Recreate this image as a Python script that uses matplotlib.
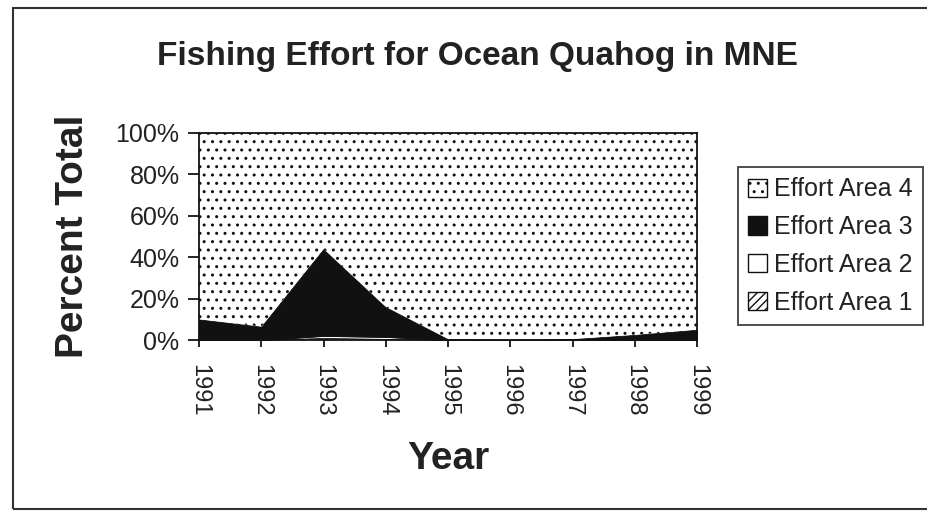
import matplotlib.pyplot as plt
from matplotlib.patches import Rectangle, Patch

years = [1991, 1992, 1993, 1994, 1995, 1996, 1997, 1998, 1999]
area1 = [0.0, 0.0, 1.0, 0.5, 0.0, 0.0, 0.0, 0.0, 0.0]
area2 = [0.0, 0.0, 1.0, 1.0, 0.0, 0.0, 0.0, 0.0, 0.0]
area3 = [10.0, 6.5, 42.0, 14.5, 0.5, 0.0, 0.5, 2.5, 5.0]
area4 = [100 - a - b - c for a, b, c in zip(area1, area2, area3)]
series_names = ['Effort Area 1', 'Effort Area 2', 'Effort Area 3', 'Effort Area 4']
fills = ['white', 'white', '#111111', 'white']
hatches = ['////', None, None, '..']
y_ticks = [0, 20, 40, 60, 80, 100]

plt.rcParams['font.family'] = ['Liberation Sans', 'DejaVu Sans']
plt.rcParams['hatch.linewidth'] = 1.0

fig = plt.figure(figsize=(9.28, 5.15), dpi=100)
ax = fig.add_axes([199 / 928, 1 - 340 / 515, 498 / 928, 207 / 515])

polys = ax.stackplot(years, area1, area2, area3, area4, colors=fills,
                     edgecolor='#111111', linewidth=0.6)
for p, h in zip(polys, hatches):
    if h:
        p.set_hatch(h)
polys[3].set_linewidth(0)

ax.set_xlim(years[0], years[-1])
ax.set_ylim(0, 100)
ax.set_xticks(years)
ax.set_xticklabels([str(y) for y in years], rotation=-90, fontsize=17, color='#222222')
ax.set_yticks(y_ticks)
ax.set_yticklabels([f'{t}%' for t in y_ticks], fontsize=18, color='#222222')
ax.tick_params(axis='y', direction='out', length=8, width=1.2, pad=6)
ax.tick_params(axis='x', direction='out', length=5, width=1.2, pad=12)
for s in ax.spines.values():
    s.set_linewidth(1.3)
    s.set_color('#111111')

ax.set_ylabel('Percent Total', fontsize=28, fontweight='bold', color='#222222', labelpad=18)
ax.set_xlabel('Year', fontsize=28, fontweight='bold', color='#222222', labelpad=18)
fig.text(477 / 928, 1 - 57 / 515, 'Fishing Effort for Ocean Quahog in MNE',
         fontsize=24, fontweight='bold', color='#222222', ha='center', va='center')

handles = [Patch(facecolor=c, edgecolor='#111111', hatch=h, linewidth=1.0)
           for c, h in zip(fills, hatches)]
leg = fig.legend(handles[::-1], series_names[::-1], loc='center left',
                 bbox_to_anchor=(738 / 928, 1 - 246 / 515), fontsize=18,
                 frameon=True, fancybox=False, edgecolor='#111111',
                 handlelength=0.75, handleheight=0.75, handletextpad=0.3,
                 labelspacing=0.55, borderpad=0.4, borderaxespad=0)
leg.get_frame().set_linewidth(1.3)
for t in leg.get_texts():
    t.set_color('#222222')

fig.patches.append(Rectangle((13 / 928, 6 / 515), 1.0, 1 - 14 / 515,
                             transform=fig.transFigure, fill=False,
                             edgecolor='#333333', linewidth=1.5))

fig.savefig('out.png', dpi=100)
